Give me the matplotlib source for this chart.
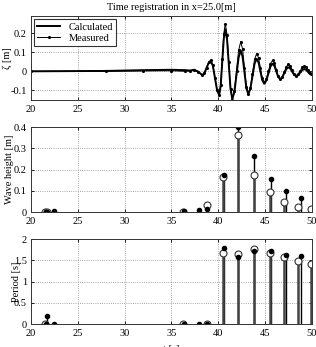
import numpy as np
import matplotlib
matplotlib.use("Agg")
import matplotlib.pyplot as plt

plt.rcParams['font.family'] = ['Liberation Serif', 'DejaVu Serif']
plt.rcParams['font.size'] = 7.5

# time registration
t_sig = [20, 28, 32, 35, 36.5, 37.0, 37.4, 37.8, 38.3,
         38.525, 38.75, 38.975, 39.2, 39.425, 39.65, 39.875, 40.1,
         40.26, 40.425, 40.59, 40.75, 40.94, 41.125, 41.31, 41.5,
         41.725, 41.95, 42.175, 42.4, 42.6, 42.8, 43.0, 43.2,
         43.425, 43.65, 43.875, 44.1, 44.3, 44.5, 44.7, 44.9,
         45.125, 45.35, 45.575, 45.8, 46.0, 46.2, 46.4, 46.6,
         46.825, 47.05, 47.275, 47.5, 47.7, 47.9, 48.1, 48.3,
         48.525, 48.75, 48.975, 49.2, 49.4, 49.6, 49.8, 50.0]
zeta_calc = [0.0, 0.002, 0.006, 0.008, 0.006, 0.004, 0.008, 0.0, -0.02,
             -0.009, 0.0175, 0.044, 0.055, 0.029, -0.035, -0.099, -0.125,
             -0.075, 0.0475, 0.170, 0.22, 0.167, 0.0375, -0.092, -0.145,
             -0.108, -0.0175, 0.073, 0.11, 0.076, -0.005, -0.086, -0.12,
             -0.093, -0.027, 0.039, 0.066, 0.047, 0.0, -0.046, -0.065,
             -0.050, -0.0125, 0.025, 0.04, 0.028, 0.0, -0.029, -0.041,
             -0.032, -0.010, 0.012, 0.021, 0.014, -0.002, -0.018, -0.025,
             -0.020, -0.0065, 0.007, 0.012, 0.007, -0.004, -0.015, -0.02]
zeta_meas = [0.0, 0.0, 0.002, 0.003, 0.0, 0.002, 0.006, -0.002, -0.02,
             -0.009, 0.019, 0.047, 0.058, 0.031, -0.0335, -0.098, -0.125,
             -0.070, 0.0625, 0.195, 0.25, 0.192, 0.05, -0.092, -0.15,
             -0.105, 0.0025, 0.110, 0.155, 0.115, 0.0175, -0.080, -0.12,
             -0.089, -0.0135, 0.062, 0.093, 0.071, 0.0175, -0.036, -0.058,
             -0.041, -0.0005, 0.040, 0.057, 0.043, 0.008, -0.027, -0.041,
             -0.030, -0.0025, 0.025, 0.036, 0.027, 0.0065, -0.014, -0.023,
             -0.016, 0.002, 0.020, 0.027, 0.021, 0.006, -0.009, -0.015]

# wave height
h_calc_x = [21.5, 21.7, 36.2, 38.75, 40.46, 42.06, 43.8, 45.5, 47.05, 48.54, 49.93]
h_calc = [0.001, 0.001, 0.002, 0.035, 0.165, 0.362, 0.173, 0.094, 0.047, 0.024, 0.013]
h_meas_x = [21.6, 21.75, 22.45, 36.3, 37.9, 38.75, 40.6, 42.06, 43.84, 45.6, 47.2, 48.8]
h_meas = [0.002, 0.001, 0.003, 0.003, 0.008, 0.016, 0.176, 0.40, 0.264, 0.157, 0.10, 0.064]

# period
p_calc_x = [21.5, 36.2, 38.75, 40.46, 42.06, 43.8, 45.5, 47.05, 48.54, 49.93]
p_calc = [0.0, 0.0, 0.0, 1.676, 1.64, 1.76, 1.68, 1.58, 1.49, 1.41]
p_meas_x = [21.6, 21.75, 22.45, 36.3, 37.9, 38.75, 40.6, 42.06, 43.84, 45.6, 47.2, 48.8]
p_meas = [0.0, 0.2, 0.0, 0.0, 0.0, 0.0, 1.80, 1.57, 1.73, 1.73, 1.63, 1.60]

fig = plt.figure(figsize=(3.16, 3.47), dpi=100)
ax1 = fig.add_axes([0.098, 0.712, 0.889, 0.242])
ax2 = fig.add_axes([0.098, 0.389, 0.889, 0.245])
ax3 = fig.add_axes([0.098, 0.066, 0.889, 0.245])

ax1.plot(t_sig, zeta_calc, color='k', lw=1.4, label='Calculated')
ax1.plot(t_sig, zeta_meas, color='k', lw=0.7, marker='.', ms=2.5, label='Measured')
ax1.set_ylim(-0.15, 0.29)
ax1.set_yticks([-0.1, 0, 0.1, 0.2])
ax1.set_yticklabels(['-0.1', '0', '0.1', '0.2'])
ax1.set_ylabel('ζ [m]', labelpad=-1)
ax1.set_title('Time registration in x=25.0[m]', fontsize=7.5, pad=4)
leg = ax1.legend(loc='upper left', fontsize=7.5, frameon=True, fancybox=False,
                 edgecolor='k', handlelength=2.2, borderpad=0.3, labelspacing=0.2,
                 borderaxespad=0.3)
leg.get_frame().set_linewidth(0.8)

ax2.vlines(h_meas_x, 0, h_meas, color='k', lw=1.0)
ax2.vlines(h_calc_x, 0, h_calc, color='#444444', lw=1.8)
ax2.plot(h_calc_x, h_calc, 'o', mfc='white', mec='#333333', ms=5, mew=0.8)
ax2.plot(h_meas_x, h_meas, 'o', color='k', ms=3)
ax2.set_ylim(0, 0.4)
ax2.set_yticks([0, 0.1, 0.2, 0.3, 0.4])
ax2.set_yticklabels(['0', '0.1', '0.2', '0.3', '0.4'])
ax2.set_ylabel('Wave height [m]', labelpad=0)

ax3.vlines(p_meas_x, 0, p_meas, color='k', lw=1.0)
ax3.vlines(p_calc_x, 0, p_calc, color='#444444', lw=1.8)
ax3.plot(p_calc_x, p_calc, 'o', mfc='white', mec='#333333', ms=5, mew=0.8)
ax3.plot(p_meas_x, p_meas, 'o', color='k', ms=3)
ax3.set_ylim(0, 2)
ax3.set_yticks([0, 0.5, 1, 1.5, 2])
ax3.set_yticklabels(['0', '0.5', '1', '1.5', '2'])
ax3.set_ylabel('Period [s]', labelpad=-5)
ax3.set_xlabel('t [s]', labelpad=5)

for ax in (ax1, ax2, ax3):
    ax.set_xlim(20, 50)
    ax.set_xticks([20, 25, 30, 35, 40, 45, 50])
    ax.grid(True, linestyle=':', color='#888888', lw=0.6)
    ax.tick_params(direction='in', top=True, right=True, length=2.5, width=0.6)
    ax.tick_params(axis='x', pad=3.5)
    ax.tick_params(axis='y', pad=3)
    for s in ax.spines.values():
        s.set_linewidth(0.7)
        s.set_color('#333333')

fig.savefig('out.png', dpi=100)
